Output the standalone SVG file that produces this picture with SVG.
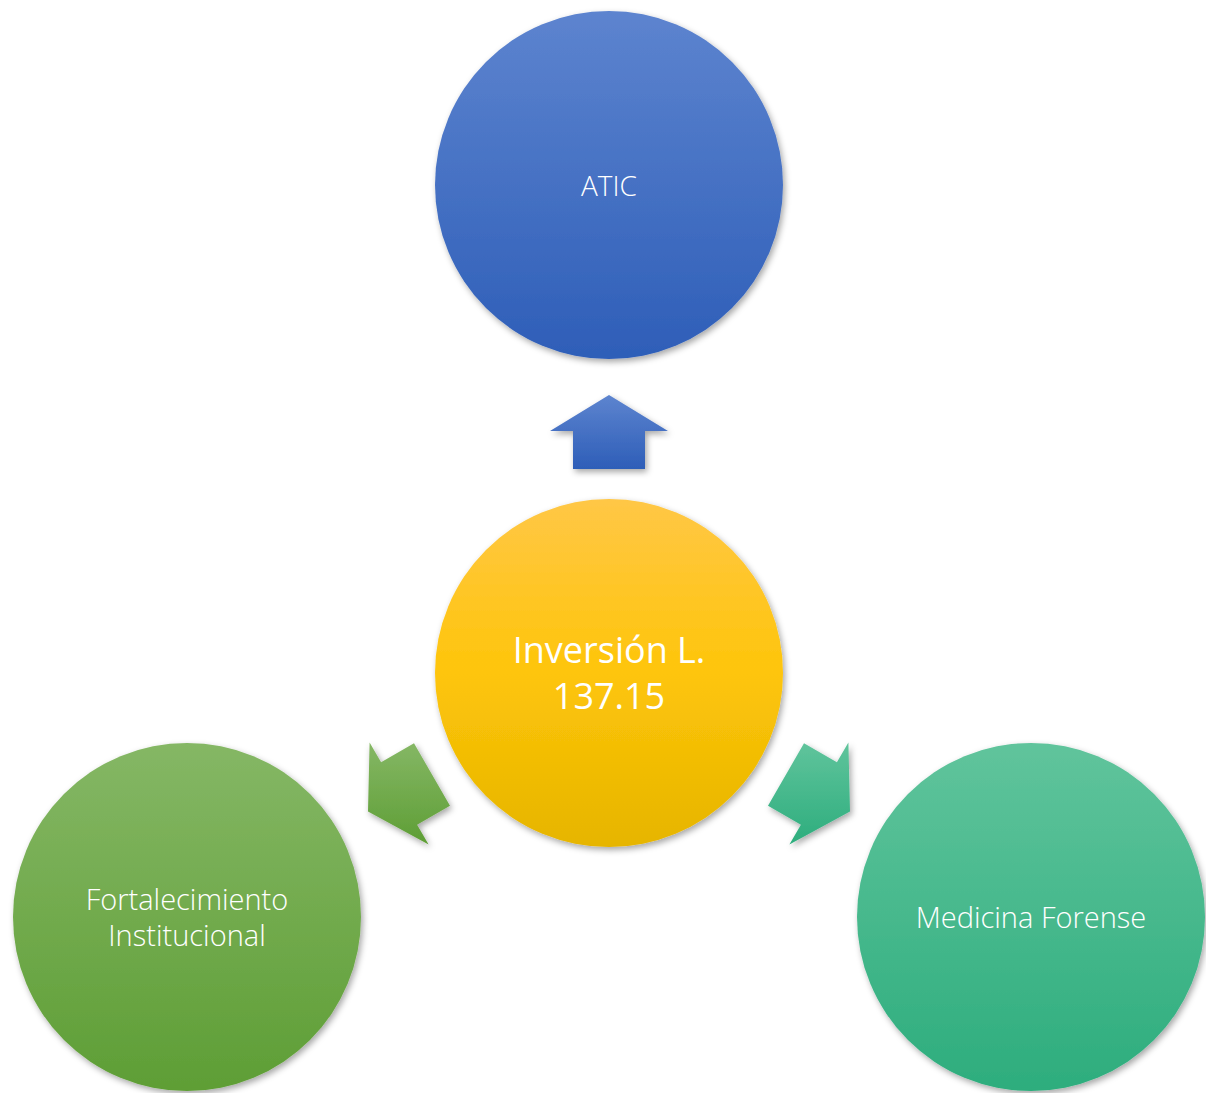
<svg xmlns="http://www.w3.org/2000/svg" width="1206" height="1093" viewBox="0 0 1206 1093">
<style>
.lbl{font-family:"Open Sans","Liberation Sans",sans-serif;font-weight:300;fill:#ffffff;text-anchor:middle;dominant-baseline:central}
.big{font-weight:400;font-size:36px}
</style>
<defs>
<filter id="sh" x="-20%" y="-20%" width="140%" height="140%">
<feDropShadow dx="2" dy="3" stdDeviation="3" flood-color="#000" flood-opacity="0.35"/>
</filter>
<linearGradient id="gB" x1="0" y1="0" x2="0" y2="1"><stop offset="0" stop-color="#5D84CF"/><stop offset="1" stop-color="#2E5EB8"/></linearGradient>
<linearGradient id="gY" x1="0" y1="0" x2="0" y2="1"><stop offset="0" stop-color="#FFC746"/><stop offset="0.5" stop-color="#FEC50A"/><stop offset="1" stop-color="#E6B500"/></linearGradient>
<linearGradient id="gG" x1="0" y1="0" x2="0" y2="1"><stop offset="0" stop-color="#85B765"/><stop offset="1" stop-color="#5E9E35"/></linearGradient>
<linearGradient id="gT" x1="0" y1="0" x2="0" y2="1"><stop offset="0" stop-color="#60C49C"/><stop offset="1" stop-color="#2DAD7D"/></linearGradient>
</defs>
<g id="connectors">
<polygon points="609,395 668,431 645,431 645,469 573,469 573,431 550,431" fill="url(#gB)" filter="url(#sh)"/>
<polygon points="368,811.5 369.6,742.4 381.1,762.3 414,743.3 450,805.7 417.1,824.7 428.6,844.6" fill="url(#gG)" filter="url(#sh)"/>
<polygon points="850,811.5 848.4,742.4 836.9,762.3 804,743.3 768,805.7 800.9,824.7 789.4,844.6" fill="url(#gT)" filter="url(#sh)"/>
</g>
<g id="node-atic">
<circle cx="609" cy="185" r="174" fill="url(#gB)" filter="url(#sh)"/>
<text class="lbl" x="609" y="185" font-size="28">ATIC</text>
</g>
<g id="node-inversion">
<circle cx="609" cy="673" r="174" fill="url(#gY)" filter="url(#sh)"/>
<text class="lbl big" x="609" y="649">Inversión L.</text>
<text class="lbl big" x="609" y="695">137.15</text>
</g>
<g id="node-fortalecimiento">
<circle cx="187" cy="917" r="174" fill="url(#gG)" filter="url(#sh)"/>
<text class="lbl" x="187" y="898" font-size="29">Fortalecimiento</text>
<text class="lbl" x="187" y="934" font-size="29">Institucional</text>
</g>
<g id="node-medicina">
<circle cx="1031" cy="917" r="174" fill="url(#gT)" filter="url(#sh)"/>
<text class="lbl" x="1031" y="916" font-size="29">Medicina Forense</text>
</g>
</svg>
